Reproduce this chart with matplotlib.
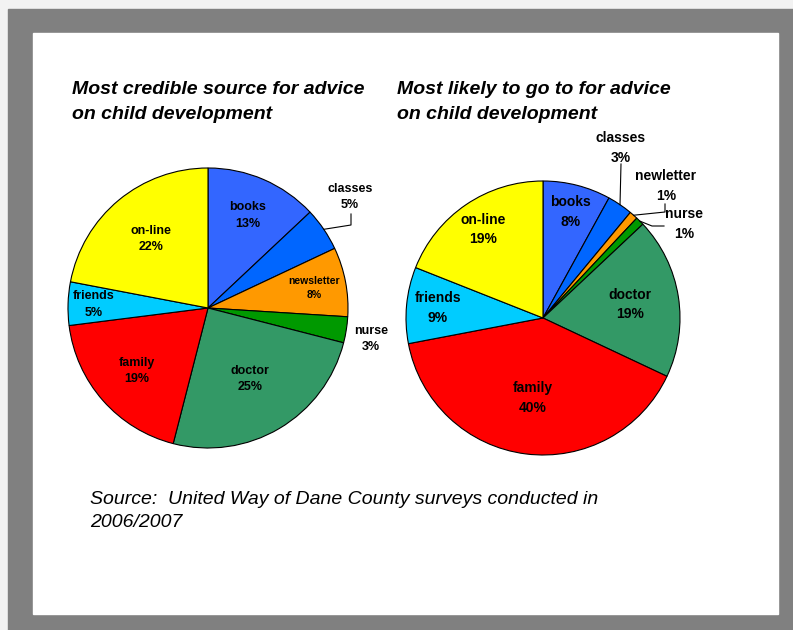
import numpy as np
import matplotlib.pyplot as plt
from matplotlib.patches import Rectangle

plt.rcParams['font.family'] = ['Liberation Sans', 'DejaVu Sans']

# data
left_names = ['books', 'classes', 'newsletter', 'nurse', 'doctor', 'family', 'friends', 'on-line']
right_names = ['books', 'classes', 'newletter', 'nurse', 'doctor', 'family', 'friends', 'on-line']
credible = [13, 5, 8, 3, 25, 19, 5, 22]
likely = [8, 3, 1, 1, 19, 40, 9, 19]
colors = ['#3366FF', '#0066FF', '#FF9900', '#009900', '#339966', '#FF0000', '#00CCFF', '#FFFF00']

left_title = 'Most credible source for advice\non child development'
right_title = 'Most likely to go to for advice\non child development'
source = 'Source:  United Way of Dane County surveys conducted in\n2006/2007'

W, H = 793, 630
fig = plt.figure(figsize=(W / 100, H / 100), dpi=100)
fig.patch.set_facecolor('#f2f2f2')
ax = fig.add_axes([0, 0, 1, 1])

# frame: gray border and white slide
ax.add_patch(Rectangle((8, 0), W - 8, H - 9, color='#808080', zorder=0))
ax.add_patch(Rectangle((33, H - 614), 745, 581, color='white', zorder=0))


def draw_pie(values, names, cx, cy, r, dist, fs, small, outside):
    wedges, _ = ax.pie(values, colors=colors, center=(cx, H - cy), radius=r,
                       startangle=90, counterclock=False,
                       wedgeprops=dict(edgecolor='black', linewidth=0.8))
    for i, w in enumerate(wedges):
        ang = np.deg2rad((w.theta1 + w.theta2) / 2)
        label = f'{names[i]}\n{values[i]}%'
        size = small.get(i, fs)
        if i in outside:
            tx, ty, path = outside[i]
            ax.text(tx, H - ty, label, ha='center', va='center', fontsize=fs,
                    fontweight='bold', linespacing=1.5)
            if path:
                xs = [cx + r * np.cos(ang)] + [p[0] for p in path]
                ys = [H - cy + r * np.sin(ang)] + [H - p[1] for p in path]
                ax.plot(xs, ys, color='black', lw=0.8)
        else:
            d = dist[i] * r
            ax.text(cx + d * np.cos(ang), H - cy + d * np.sin(ang), label,
                    ha='center', va='center', fontsize=size, fontweight='bold',
                    linespacing=1.5)


draw_pie(credible, left_names, 208, 308, 140,
         [0.72, 0, 0.77, 0, 0.59, 0.68, 0.82, 0.64], 9, {2: 7.5},
         {1: (350, 197, [(351, 225), (351, 214)]),
          3: (371, 339, None)})

draw_pie(likely, right_names, 543, 318, 137,
         [0.80, 0, 0, 0, 0.64, 0.59, 0.77, 0.78], 10, {},
         {1: (621, 148, [(621, 164)]),
          2: (666, 186, [(665, 212), (665, 204)]),
          3: (684, 224, [(652, 226), (664, 226)])})

ax.text(72, H - 102, left_title, fontsize=14, fontweight='bold', style='italic',
        ha='left', va='center', linespacing=1.55)
ax.text(397, H - 102, right_title, fontsize=14, fontweight='bold', style='italic',
        ha='left', va='center', linespacing=1.55)
ax.text(90, H - 511, source, fontsize=14, style='italic',
        ha='left', va='center', linespacing=1.5)

ax.set_xlim(0, W)
ax.set_ylim(0, H)
ax.set_aspect('equal')
ax.axis('off')

fig.savefig('out.png', dpi=100, facecolor=fig.get_facecolor())
